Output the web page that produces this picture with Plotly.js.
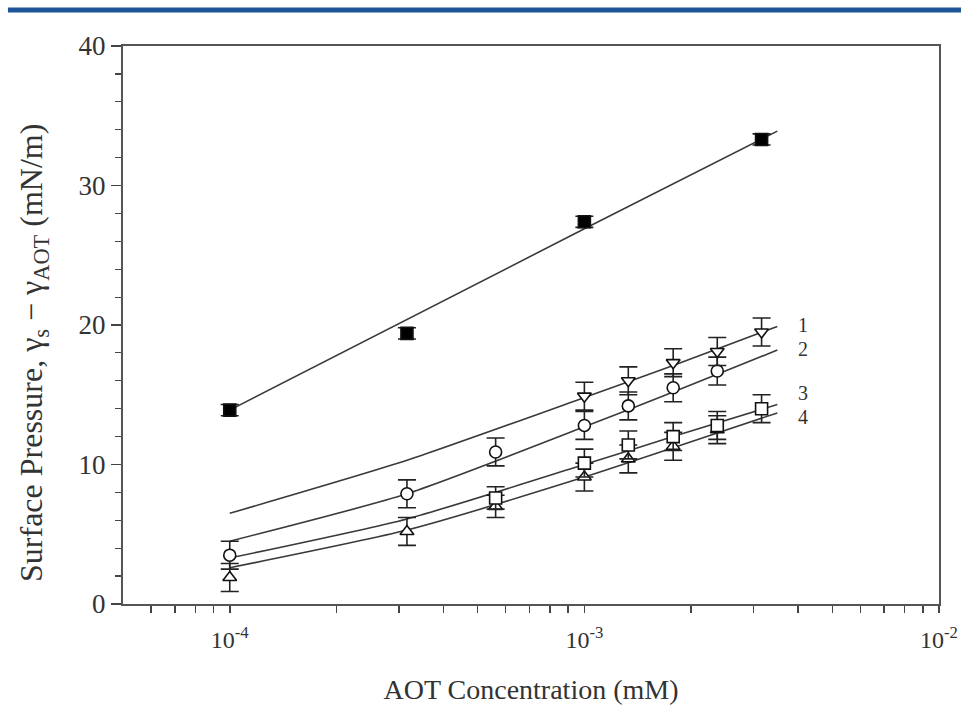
<!DOCTYPE html>
<html>
<head>
<meta charset="utf-8">
<script src="https://cdn.plot.ly/plotly-3.0.1.min.js"></script>
<style>html,body{margin:0;padding:0;background:#fff;}#chart{width:961px;height:710px;}</style>
</head>
<body>
<div id="chart"></div>
<script>
// Filled squares (upper series)
var xS = [1e-4, 3.16e-4, 1e-3, 3.16e-3];
var yS = [13.9, 19.4, 27.4, 33.3];
var eS = [0.4, 0.4, 0.4, 0.4];
// Curve 1: open down-triangles
var x1 = [1e-3, 1.33e-3, 1.78e-3, 2.37e-3, 3.16e-3];
var y1 = [14.9, 16.0, 17.3, 18.1, 19.5];
var e1 = [1.0, 1.0, 1.0, 1.0, 1.0];
// Curve 2: open circles
var x2 = [1e-4, 3.16e-4, 5.62e-4, 1e-3, 1.33e-3, 1.78e-3, 2.37e-3];
var y2 = [3.5, 7.9, 10.9, 12.8, 14.2, 15.5, 16.7];
var e2 = [1.0, 1.0, 1.0, 1.0, 1.0, 1.0, 1.0];
// Curve 3: open squares
var x3 = [5.62e-4, 1e-3, 1.33e-3, 1.78e-3, 2.37e-3, 3.16e-3];
var y3 = [7.6, 10.1, 11.4, 12.0, 12.8, 14.0];
var e3 = [0.8, 1.0, 1.0, 1.0, 1.0, 1.0];
// Curve 4: open up-triangles
var x4 = [1e-4, 3.16e-4, 5.62e-4, 1e-3, 1.33e-3, 1.78e-3, 2.37e-3];
var y4 = [1.9, 5.2, 7.0, 9.1, 10.4, 11.3, 12.5];
var e4 = [1.0, 1.0, 0.8, 1.0, 1.0, 1.0, 1.0];
// Fitted curves
var fitSX = [1e-4, 1e-3, 3.5e-3];
var fitSY = [13.9, 26.9, 33.9];
var fitX = [1e-4, 3.16e-4, 1e-3, 1.78e-3, 3.5e-3];
var fit1 = [6.5, 10.3, 14.8, 17.1, 19.9];
var fit2 = [4.5, 7.9, 12.7, 15.2, 18.2];
var fit3 = [3.3, 6.1, 10.0, 12.0, 14.3];
var fit4 = [2.6, 5.3, 9.1, 11.2, 13.7];
var curveLabels = ["1", "2", "3", "4"];
var labelY = [20.0, 18.3, 15.1, 13.4];
var labelX = 3.95e-3;
var xMajor = [1e-4, 1e-3, 1e-2];
var xMajorText = ["10<sup>-4</sup>", "10<sup>-3</sup>", "10<sup>-2</sup>"];
var xMinor = [6e-5,7e-5,8e-5,9e-5,2e-4,3e-4,4e-4,5e-4,6e-4,7e-4,8e-4,9e-4,2e-3,3e-3,4e-3,5e-3,6e-3,7e-3,8e-3,9e-3];
var yTitle = 'Surface Pressure, γ<sub>s</sub> − γ<sub>AOT</sub> (mN/m)';

var SERIF = "'Liberation Serif', 'Times New Roman', Times, 'DejaVu Serif', serif";
var lineStyle = {color: '#3a3a3a', width: 1.6, shape: 'spline', smoothing: 0.6};
function fitTrace(x, y) {
  return {x: x, y: y, mode: 'lines', line: lineStyle, hoverinfo: 'skip', showlegend: false};
}
function ptTrace(x, y, e, sym, fill) {
  return {
    x: x, y: y, mode: 'markers', showlegend: false,
    error_y: {type: 'data', array: e, visible: true, color: '#222', thickness: 1.6, width: 9},
    marker: {symbol: sym, size: 12, color: fill, line: {color: '#111', width: 1.6}}
  };
}
var traces = [
  fitTrace(fitSX, fitSY), fitTrace(fitX, fit1), fitTrace(fitX, fit2), fitTrace(fitX, fit3), fitTrace(fitX, fit4),
  ptTrace(x4, y4, e4, 'triangle-up', '#ffffff'),
  ptTrace(x3, y3, e3, 'square', '#ffffff'),
  ptTrace(x2, y2, e2, 'circle', '#ffffff'),
  ptTrace(x1, y1, e1, 'triangle-down', '#ffffff'),
  ptTrace(xS, yS, eS, 'square', '#000000')
];

var tickvals = xMajor.concat(xMinor);
var ticktext = xMajorText.concat(xMinor.map(function(){return '';}));

var annotations = curveLabels.map(function(t, i) {
  return {x: Math.log10(labelX), y: labelY[i], xref: 'x', yref: 'y', text: t, showarrow: false,
          xanchor: 'left', yanchor: 'middle', font: {family: SERIF, size: 20, color: '#333'}};
});
annotations.push({x: -0.109, y: 0.45, xref: 'paper', yref: 'paper', text: yTitle, showarrow: false,
                  textangle: -90, xanchor: 'center', yanchor: 'middle',
                  font: {family: SERIF, size: 32, color: '#333'}});

var layout = {
  width: 961, height: 710,
  margin: {l: 123, r: 22, t: 46, b: 106},
  paper_bgcolor: '#fff', plot_bgcolor: '#fff',
  font: {family: SERIF, color: '#333'},
  xaxis: {
    type: 'log', range: [Math.log10(5e-5), -2],
    tickmode: 'array', tickvals: tickvals, ticktext: ticktext,
    ticks: 'outside', ticklen: 7, tickwidth: 1.5, tickcolor: '#444', ticklabelstandoff: 6,
    showgrid: false, zeroline: false, showline: true, linecolor: '#555', linewidth: 2, mirror: true,
    tickfont: {family: SERIF, size: 24, color: '#333'},
    title: {text: 'AOT Concentration (mM)', font: {family: SERIF, size: 28, color: '#333'}, standoff: 28}
  },
  yaxis: {
    range: [0, 40], dtick: 10, ticks: 'outside', ticklen: 10, tickwidth: 1.5, tickcolor: '#444',
    minor: {dtick: 2, ticks: 'outside', ticklen: 6, tickwidth: 1.2, tickcolor: '#444', showgrid: false},
    showgrid: false, zeroline: false, showline: true, linecolor: '#555', linewidth: 2, mirror: true,
    tickfont: {family: SERIF, size: 27, color: '#333'}
  },
  shapes: [{type: 'line', xref: 'paper', yref: 'paper', x0: -0.141, x1: 1.03, y0: 1.0645, y1: 1.0645,
            line: {color: '#1d5597', width: 5}}],
  annotations: annotations
};
Plotly.newPlot('chart', traces, layout, {staticPlot: true});
</script>
</body>
</html>
